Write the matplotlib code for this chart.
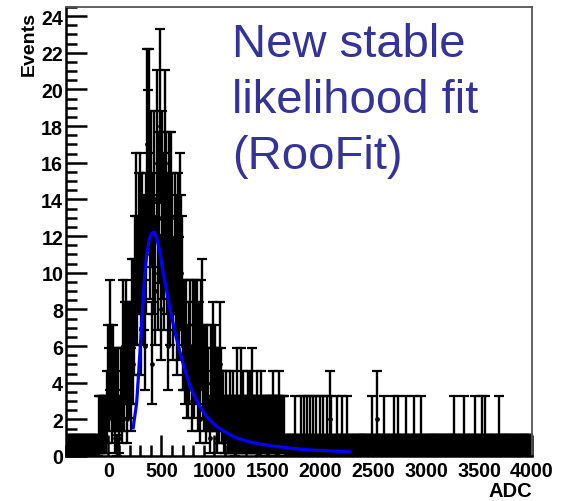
import math

import matplotlib
matplotlib.use("Agg")
import matplotlib.pyplot as plt
import numpy as np
from matplotlib.ticker import MultipleLocator

# histogram binning (ADC)
adc_lo, adc_hi, bin_width = -400, 4000, 10

# events per 10-ADC bin, starting at ADC -100
core_start = -100
core_counts = [
    0, 1, 1, 1, 1, 1, 1, 1, 2, 4,          # -100
    3, 6, 4, 2, 4, 3, 1, 3, 0, 3,          # 0
    1, 3, 2, 6, 3, 5, 6, 2, 5, 4,          # 100
    5, 3, 7, 5, 7, 9, 12, 9, 11, 12,       # 200
    7, 11, 9, 10, 6, 11, 17, 15, 17, 12,   # 300
    14, 5, 11, 14, 9, 16, 10, 13, 18, 8,   # 400
    14, 12, 10, 16, 13, 11, 6, 13, 9, 13,  # 500
    11, 8, 11, 10, 7, 11, 8, 12, 10, 9,    # 600
    6, 6, 5, 6, 4, 4, 5, 6, 3, 6,          # 700
    4, 6, 5, 6, 3, 5, 2, 6, 7, 4,          # 800
    3, 4, 2, 4, 3, 1, 4, 3, 5, 3,          # 900
    4, 3, 1, 3, 2, 5, 3, 2, 2, 1,          # 1000
    1, 2, 1, 1, 2, 1, 1, 2, 1, 0,          # 1100
    1, 3, 1, 1, 1, 3, 1, 2, 1, 1,          # 1200
    1, 2, 1, 2, 1, 3, 1, 1, 1, 1,          # 1300
    2, 1, 1, 0, 2, 1, 1, 1, 1, 1,          # 1400
    0, 1, 1, 1, 1, 2, 1, 1, 0, 1,          # 1500
    1, 2, 1, 1, 1, 1, 0, 0, 0, 0,          # 1600
]
# isolated bins further out
tail_single = [1763, 1810, 1841, 1872, 1904, 1933, 1968, 1999, 2027, 2062,
               2109, 2156, 2203, 2250, 2483, 2607, 2692, 2739, 2815, 2882,
               2957, 3261, 3355, 3460, 3526, 3555, 3687]
tail_double = [2093, 2531]

# likelihood fit curve
fit_adc = [232, 267, 282, 298, 314, 330, 346, 362, 386, 409, 431, 456, 487,
           518, 551, 582, 629, 677, 723, 771, 818, 865, 910, 959, 1025, 1082,
           1176, 1243, 1338, 1404, 1555, 1649, 1810, 1970, 2130, 2288]
fit_val = [1.45, 2.9, 4.2, 5.65, 7.1, 8.7, 10.0, 11.0, 11.8, 12.15, 12.2,
           11.9, 11.1, 10.0, 9.0, 8.0, 6.75, 5.65, 4.7, 3.8, 3.2, 2.7, 2.3,
           1.95, 1.6, 1.38, 1.08, 0.92, 0.76, 0.68, 0.54, 0.47, 0.37, 0.31,
           0.27, 0.24]

y_ticks = list(range(0, 25, 2))
x_ticks = list(range(0, 4001, 500))


def poisson_cdf(k, mu):
    return sum(math.exp(-mu) * mu ** i / math.factorial(i) for i in range(k + 1))


def poisson_interval(n, cl=0.6827):
    """Central Poisson interval, one-sided for n == 0."""
    if n == 0:
        return 0.0, -math.log(1 - cl)
    a = (1 - cl) / 2

    def solve(f, lo, hi):
        for _ in range(60):
            mid = 0.5 * (lo + hi)
            if f(mid) > 0:
                hi = mid
            else:
                lo = mid
        return 0.5 * (lo + hi)

    lower = solve(lambda mu: (1 - poisson_cdf(n - 1, mu)) - a, 0.0, n)
    upper = solve(lambda mu: a - poisson_cdf(n, mu), n, n + 10 * math.sqrt(n) + 10)
    return lower, upper


nbins = (adc_hi - adc_lo) // bin_width
counts = np.zeros(nbins, dtype=int)
i0 = (core_start - adc_lo) // bin_width
counts[i0:i0 + len(core_counts)] = core_counts
for adc in tail_single:
    counts[(adc - adc_lo) // bin_width] = 1
for adc in tail_double:
    counts[(adc - adc_lo) // bin_width] = 2

centers = adc_lo + bin_width * (np.arange(nbins) + 0.5)
intervals = np.array([poisson_interval(int(n)) for n in counts])
err_lo = counts - intervals[:, 0]
err_hi = intervals[:, 1] - counts

plt.rcParams["font.family"] = ["Liberation Sans", "DejaVu Sans"]
fig = plt.figure(figsize=(5.63, 5.02), dpi=100)
ax = fig.add_axes([66 / 563, 45 / 502, 466 / 563, 449 / 502])

ax.errorbar(centers, counts, yerr=[err_lo, err_hi], fmt="none", ecolor="black",
            elinewidth=1.7, capsize=3.6, capthick=1.6, zorder=2)
ax.errorbar(centers, counts, xerr=bin_width / 2, fmt="o", color="black",
            markersize=2.4, elinewidth=1.6, capsize=0, zorder=2)
ax.plot(fit_adc, fit_val, color="#0000ff", lw=2.3, zorder=3,
        solid_capstyle="butt")

ax.set_xlim(adc_lo, adc_hi)
ax.set_ylim(0, 24.5)
ax.set_xticks(x_ticks)
ax.set_yticks(y_ticks)
ax.xaxis.set_minor_locator(MultipleLocator(100))
ax.yaxis.set_minor_locator(MultipleLocator(0.5))
ax.tick_params(which="both", direction="in", top=False, right=False,
               colors="black", width=1.8)
ax.tick_params(which="major", length=15)
ax.tick_params(which="minor", length=8)
ax.tick_params(axis="y", pad=2)
ax.tick_params(axis="x", pad=3.5)
for lbl in ax.get_xticklabels() + ax.get_yticklabels():
    lbl.set_fontweight("bold")
    lbl.set_fontsize(14.2)

for side in ("left", "bottom"):
    ax.spines[side].set_linewidth(1.8)
    ax.spines[side].set_color("black")
for side in ("top", "right"):
    ax.spines[side].set_linewidth(1.3)
    ax.spines[side].set_color("#555555")

fig.text(29 / 563, 1 - 12 / 502, "Events", rotation=90, ha="center", va="top",
         fontsize=14, fontweight="bold")
fig.text(532 / 563, 1 - 492 / 502, "ADC", ha="right", va="center",
         fontsize=14.5, fontweight="bold")
fig.text(232 / 563, 1 - 23 / 502, "New stable\nlikelihood fit\n(RooFit)",
         ha="left", va="top", fontsize=34, color="#333399", linespacing=1.36)

fig.savefig("out.png", dpi=100)
